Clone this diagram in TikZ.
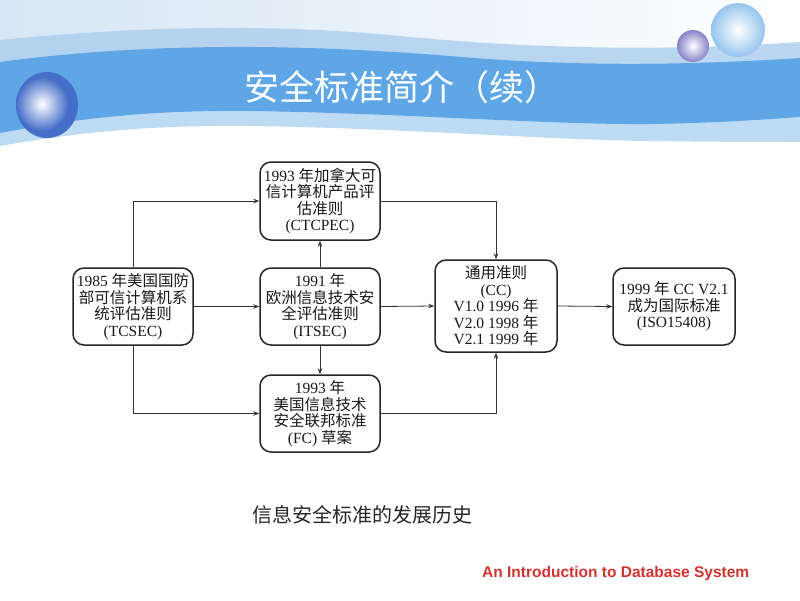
\documentclass[tikz,border=0pt]{standalone}
\usepackage{fontspec}
\setmainfont{Liberation Serif}
\newfontfamily\cjk{Noto Sans CJK SC}
\newfontfamily\footfont{Liberation Sans}
\usetikzlibrary{arrows.meta}
\definecolor{bandblue}{RGB}{95,166,230}
\definecolor{lightband}{RGB}{190,219,244}
\definecolor{upperband}{RGB}{170,205,238}
\definecolor{topbg}{RGB}{214,230,244}
\definecolor{sphereblue}{RGB}{70,110,200}
\definecolor{spherelight}{RGB}{150,196,238}
\definecolor{spherepurple}{RGB}{135,130,200}
\definecolor{footred}{RGB}{208,52,48}
\newcommand\zhtext[1]{{\cjk #1}}
\begin{document}
\begin{tikzpicture}[x=1pt,y=-1pt,
  stdbox/.style={draw=black!85, line width=1.5pt, rounded corners=11pt,
    minimum width=120pt, minimum height=77pt, align=center,
    font=\fontsize{15.5}{16.5}\selectfont, text=black!90, inner sep=0pt},
  conn/.style={draw=black!80, line width=0.8pt, -{Stealth[length=6pt,width=4.5pt]}}]
\useasboundingbox (0,0) rectangle (800,600);
\fill[white] (0,0) rectangle (800,600);
% top background
\shade[left color=topbg, right color=white] (0,0) rectangle (800,70);
% upper light strip
\fill[upperband, opacity=0.8] (0,40) .. controls (120,28) and (260,22) .. (400,36)
  .. controls (520,48) and (660,52) .. (800,42) -- (800,70) -- (0,70) -- cycle;
% lower light strip
\fill[lightband] (0,100) -- (800,100) -- (800,142)
  .. controls (770,142) and (720,142) .. (650,141)
  .. controls (550,140) and (400,128) .. (250,126)
  .. controls (150,125) and (80,132) .. (0,146) -- cycle;
% dark band
\fill[bandblue] (0,62) .. controls (150,42) and (300,44) .. (450,56)
  .. controls (560,66) and (680,66) .. (800,58) -- (800,117)
  .. controls (770,119) and (720,123) .. (650,124)
  .. controls (550,125) and (400,113) .. (250,111)
  .. controls (150,110) and (80,118) .. (0,133) -- cycle;
% left sphere
\fill[sphereblue] (47,105) ellipse [x radius=31, y radius=33];
\shade[inner color=white, outer color=sphereblue] (42,104) ellipse [x radius=26, y radius=27];
% right spheres
\shade[inner color=white, outer color=spherelight] (738,30) circle [radius=27];
\shade[inner color=white, outer color=spherepurple] (693,46) circle [radius=16];
% title
\node[font=\cjk\fontsize{35}{38}\selectfont, text=white] (title) at (402,87) {安全标准简介（续）};
% boxes
\node[stdbox] (tcsec) at (133,306.5) {1985 \zhtext{年美国国防}\\\zhtext{部可信计算机系}\\\zhtext{统评估准则}\\(TCSEC)};
\node[stdbox, minimum height=78pt] (ctcpec) at (320,201) {1993 \zhtext{年加拿大可}\\\zhtext{信计算机产品评}\\\zhtext{估准则}\\(CTCPEC)};
\node[stdbox] (itsec) at (320,306.5) {1991 \zhtext{年}\\\zhtext{欧洲信息技术安}\\\zhtext{全评估准则}\\(ITSEC)};
\node[stdbox] (fc) at (320,413.5) {1993 \zhtext{年}\\\zhtext{美国信息技术}\\\zhtext{安全联邦标准}\\(FC) \zhtext{草案}};
\node[stdbox, minimum width=122pt, minimum height=92pt] (cc) at (496,306) {\zhtext{通用准则}\\(CC)\\V1.0 1996 \zhtext{年}\\V2.0 1998 \zhtext{年}\\V2.1 1999 \zhtext{年}};
\node[stdbox, minimum width=122pt] (iso) at (674,306.5) {1999 \zhtext{年} CC V2.1\\\zhtext{成为国际标准}\\(ISO15408)};
% connectors
\draw[conn] (tcsec.north) |- (ctcpec.west);
\draw[conn] (tcsec.east) -- (itsec.west);
\draw[conn] (tcsec.south) |- (fc.west);
\draw[conn] (itsec.north) -- (ctcpec.south);
\draw[conn] (itsec.south) -- (fc.north);
\draw[conn] (ctcpec.east) -| (cc.north);
\draw[conn] (itsec.east) -- (cc.west);
\draw[conn] (fc.east) -| (cc.south);
\draw[conn] (cc.east) -- (iso.west);
% caption and footer
\node[anchor=west, font=\cjk\fontsize{20}{22}\selectfont, text=black!85, inner sep=0pt] (caption) at (252,515) {信息安全标准的发展历史};
\node[anchor=west, font=\footfont\bfseries\fontsize{15.5}{17}\selectfont, text=footred, inner sep=0pt] (footer) at (482,573) {An Introduction to Database System};
\end{tikzpicture}
\end{document}
